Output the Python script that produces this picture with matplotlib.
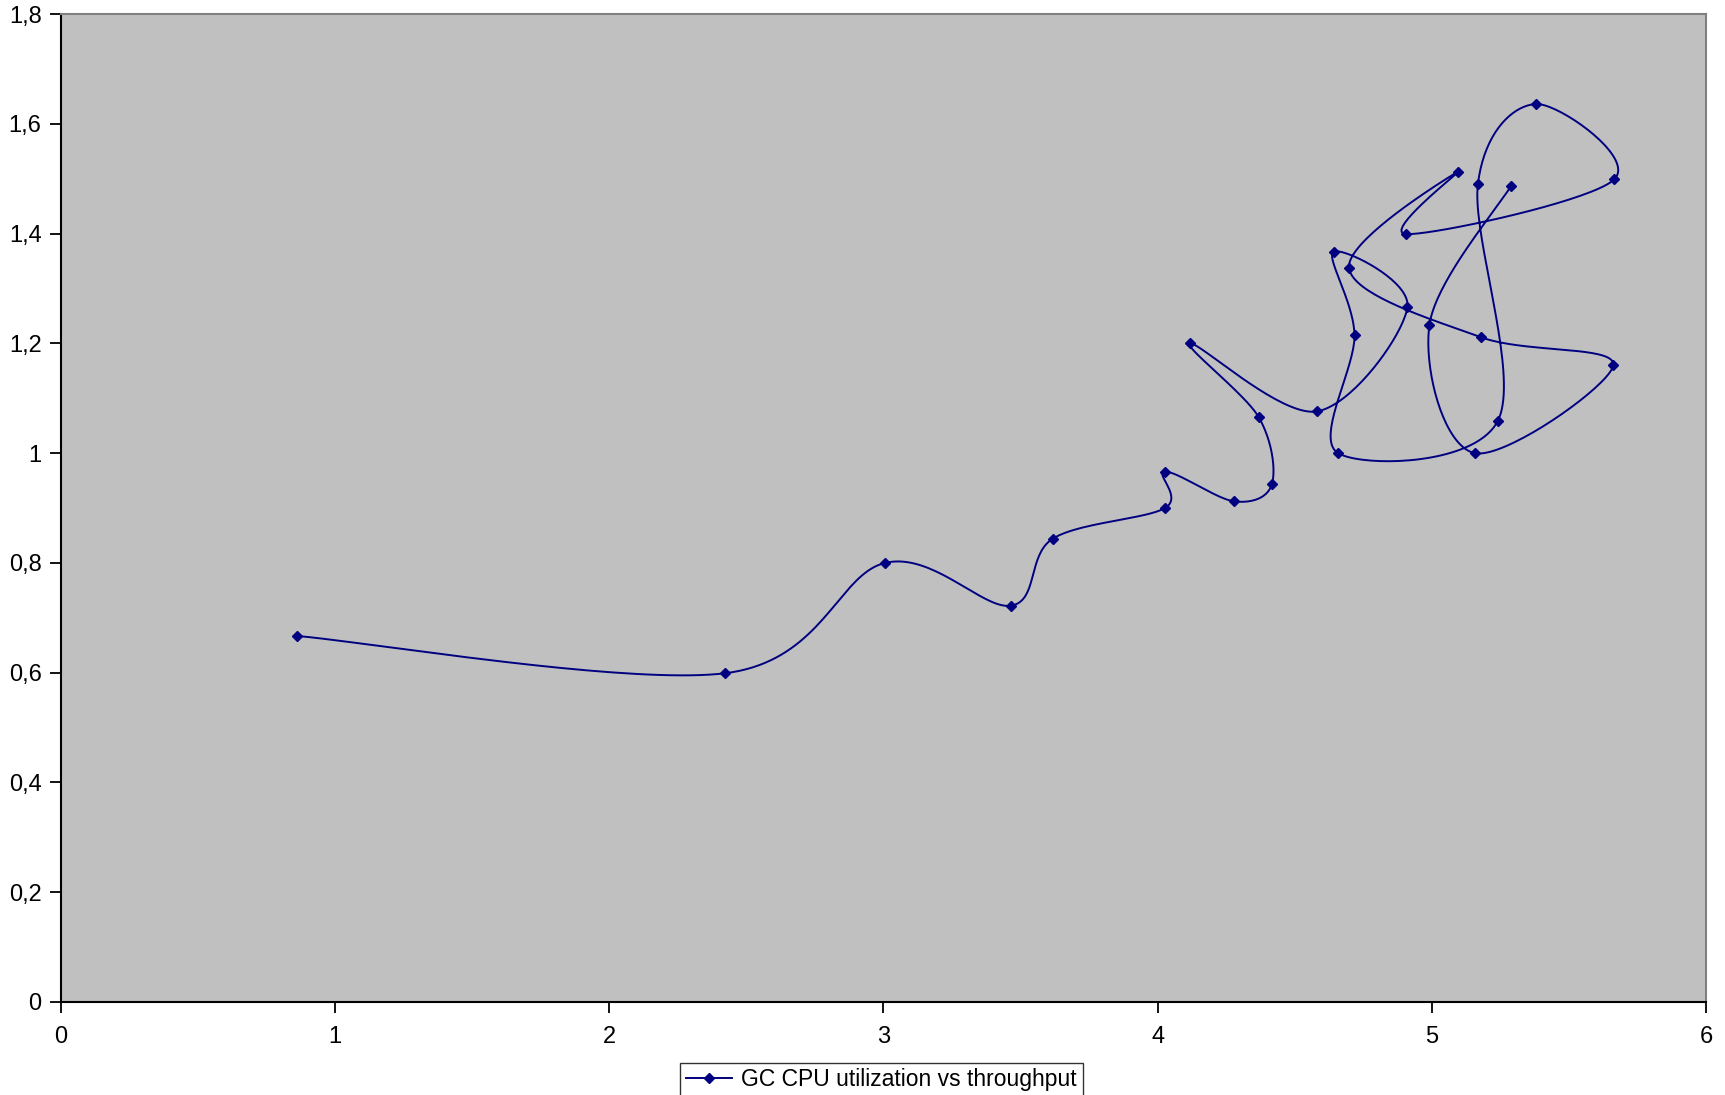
import numpy as np
import matplotlib
matplotlib.use("Agg")
import matplotlib.pyplot as plt

# GC CPU utilization vs throughput, in plotting order
throughput = [0.860, 2.423, 3.006, 3.464, 3.617, 4.027, 4.027, 4.280, 4.417, 4.368,
              4.119, 4.581, 4.911, 4.642, 4.718, 4.658, 5.240, 5.168, 5.381, 5.666,
              4.907, 5.096, 4.698, 5.180, 5.662, 5.156, 4.991, 5.289]
gc_cpu = [0.667, 0.599, 0.800, 0.722, 0.844, 0.900, 0.966, 0.912, 0.944, 1.066,
          1.200, 1.076, 1.267, 1.367, 1.215, 1.000, 1.058, 1.490, 1.636, 1.499,
          1.399, 1.513, 1.337, 1.211, 1.161, 1.000, 1.233, 1.487]

xticks = [0, 1, 2, 3, 4, 5, 6]
yticks = [0, 0.2, 0.4, 0.6, 0.8, 1.0, 1.2, 1.4, 1.6, 1.8]
ytick_labels = ['0', '0,2', '0,4', '0,6', '0,8', '1', '1,2', '1,4', '1,6', '1,8']


def smooth(xs, ys, n=40):
    # excel-style smoothed line: bezier with catmull-rom control points
    p = np.column_stack([xs, ys])
    ext = np.vstack([p[0], p, p[-1]])
    t = np.linspace(0, 1, n)[:, None]
    out = []
    for i in range(len(p) - 1):
        p0, p1, p2, p3 = ext[i], ext[i + 1], ext[i + 2], ext[i + 3]
        c1 = p1 + (p2 - p0) / 6
        c2 = p2 - (p3 - p1) / 6
        seg = (1 - t)**3 * p1 + 3 * (1 - t)**2 * t * c1 + 3 * (1 - t) * t**2 * c2 + t**3 * p2
        out.append(seg if i == 0 else seg[1:])
    return np.vstack(out)


plt.rcParams['font.family'] = ['Liberation Sans', 'DejaVu Sans']

fig = plt.figure(figsize=(17.25, 10.95), dpi=100)
ax = fig.add_axes([61 / 1725, 1 - 1002 / 1095, (1706 - 61) / 1725, (1002 - 14) / 1095])
ax.set_facecolor('#c0c0c0')

curve = smooth(throughput, gc_cpu)
ax.plot(curve[:, 0], curve[:, 1], color='#000080', lw=1.4)
ax.plot(throughput, gc_cpu, ls='none', marker='D', ms=5.2, color='#000080')
# legend handle
ax.plot([], [], color='#000080', lw=1.4, marker='D', ms=5.2,
        label='GC CPU utilization vs throughput')

ax.set_xlim(0, 6)
ax.set_ylim(0, 1.8)
ax.set_xticks(xticks)
ax.set_yticks(yticks)
ax.set_yticklabels(ytick_labels)

for s in ['left', 'bottom']:
    ax.spines[s].set_color('black')
    ax.spines[s].set_linewidth(1.5)
for s in ['top', 'right']:
    ax.spines[s].set_color('#808080')
    ax.spines[s].set_linewidth(1.5)

ax.tick_params(axis='both', direction='out', length=8, width=1.3, labelsize=17)
ax.tick_params(axis='y', pad=6)
ax.tick_params(axis='x', pad=9)

leg = fig.legend(loc='upper center', bbox_to_anchor=(0.511, 0.040), fontsize=16.5,
                 frameon=True, fancybox=False, borderpad=0.25, handlelength=2.0,
                 handletextpad=0.4, borderaxespad=0.5)
leg.get_frame().set_edgecolor('black')
leg.get_frame().set_linewidth(1.0)

fig.savefig('out.png', dpi=100, facecolor='white')
